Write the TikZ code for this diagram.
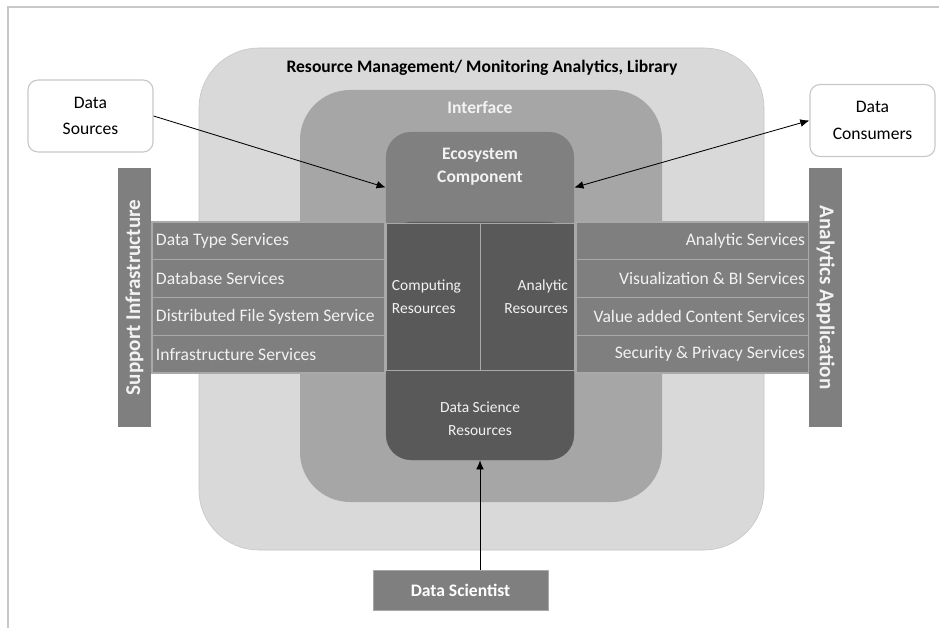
\documentclass[tikz,border=0pt]{standalone}
\usepackage{fontspec}
\setmainfont{Carlito}
\usetikzlibrary{arrows.meta,positioning}

\definecolor{framegray}{HTML}{C8C8C8}
\definecolor{outergray}{HTML}{D9D9D9}
\definecolor{outerline}{HTML}{C4C4C4}
\definecolor{ifacegray}{HTML}{A6A6A6}
\definecolor{ecogray}{HTML}{808080}
\definecolor{coregray}{HTML}{595959}
\definecolor{stripgray}{HTML}{7F7F7F}
\definecolor{seamgray}{HTML}{A9A9A9}
\definecolor{softwhite}{HTML}{F2F2F2}

\tikzset{
    svcrow/.style={rectangle, fill=stripgray, draw=seamgray, line width=0.8pt,
        minimum width=5.825cm, minimum height=0.944cm, text width=5.625cm,
        inner xsep=0.1cm, text=softwhite, font=\fontsize{12.5}{14}\selectfont},
    vbar/.style={rectangle, fill=stripgray, minimum width=6.475cm, minimum height=0.825cm,
        text=softwhite, font=\bfseries\fontsize{15}{17}\selectfont},
    endbox/.style={rectangle, rounded corners=0.25cm, draw=framegray, line width=0.8pt, fill=white,
        minimum width=3.125cm, minimum height=1.8cm, align=center,
        font=\fontsize{12.5}{19}\selectfont},
    corecell/.style={rectangle, fill=coregray, draw=seamgray, line width=0.6pt,
        minimum width=2.35cm, minimum height=3.675cm, text width=2.05cm,
        inner xsep=0.15cm, text=softwhite, font=\fontsize{11}{16}\selectfont},
    flow/.style={-{Latex[length=6.5pt,width=5.5pt]}, line width=0.6pt}
}

\newcommand{\servicestrip}[3]{% #1 = left edge, #2 = text side, #3 = labels
    \foreach \lbl [count=\i] in {#3} {
        \node[svcrow, align=flush #2] (#2svc-\i) at ({#1+116.5}, {222+37.75*(\i-1)+18.9}) {\lbl};
    }
}

\begin{document}
\begin{tikzpicture}[x=0.025cm, y=-0.025cm]
    \useasboundingbox (0,0) rectangle (939,628);
    \draw[framegray, line width=1.2pt] (8,628) -- (8,7) -- (939,7);

    % Layers
    \draw[outerline, fill=outergray, rounded corners=1.5cm] (199,48) rectangle (764,550);
    \node[font=\bfseries\fontsize{12.5}{14}\selectfont] (rmtitle) at (482,68)
        {Resource Management/ Monitoring Analytics, Library};
    \fill[ifacegray, rounded corners=1.25cm] (300,90) rectangle (662,502);
    \node[text=softwhite, font=\bfseries\fontsize{12.5}{14}\selectfont] (iface) at (480,107) {Interface};

    % Core column
    \node[rectangle, rounded corners=0.625cm, fill=ecogray, minimum width=4.7cm, minimum height=8.2cm]
        (eco) at (480,296) {};
    \node[align=center, text=softwhite, font=\bfseries\fontsize{12.5}{16.5}\selectfont]
        (ecotxt) at (480,167) {Ecosystem\\Component};
    \fill[coregray, rounded corners=0.625cm] (386,222) rectangle (574,460);
    \node[corecell, align=flush left] (comp) at (433,296.5) {Computing\\Resources};
    \node[corecell, align=flush right] (anal) at (527,296.5) {Analytic\\Resources};
    \node[minimum width=4.7cm, minimum height=2.075cm, align=center, text=softwhite,
        font=\fontsize{11}{16}\selectfont] (dsr) at (480,418.5) {Data Science\\Resources};

    % Services
    \servicestrip{152}{left}{Data Type Services, Database Services,
        Distributed File System Service, Infrastructure Services}
    \servicestrip{576}{right}{Analytic Services, Visualization \& BI Services,
        Value added Content Services, Security \& Privacy Services}
    \node[vbar, rotate=90] (supinf) at (134.5,297.5) {Support Infrastructure};
    \node[vbar, rotate=-90] (anapp) at (825.5,297.5) {Analytics Application};

    % Actors
    \node[endbox] (src) at (90.5,116) {Data\\Sources};
    \node[endbox] (cons) at (872.5,120.5) {Data\\Consumers};
    \node[rectangle, fill=stripgray, draw=seamgray, line width=0.6pt, minimum width=4.375cm,
        minimum height=1cm, text=white, font=\bfseries\fontsize{12.5}{14}\selectfont]
        (sci) at (460.5,590) {Data Scientist};

    \draw[flow] (src.east) -- (eco.131);
    \draw[flow, {Latex[length=6.5pt,width=5.5pt]}-{Latex[length=6.5pt,width=5.5pt]}] (eco.49) -- (cons.west);
    \draw[flow] (dsr.south |- sci.north) -- (dsr.south);
\end{tikzpicture}
\end{document}
